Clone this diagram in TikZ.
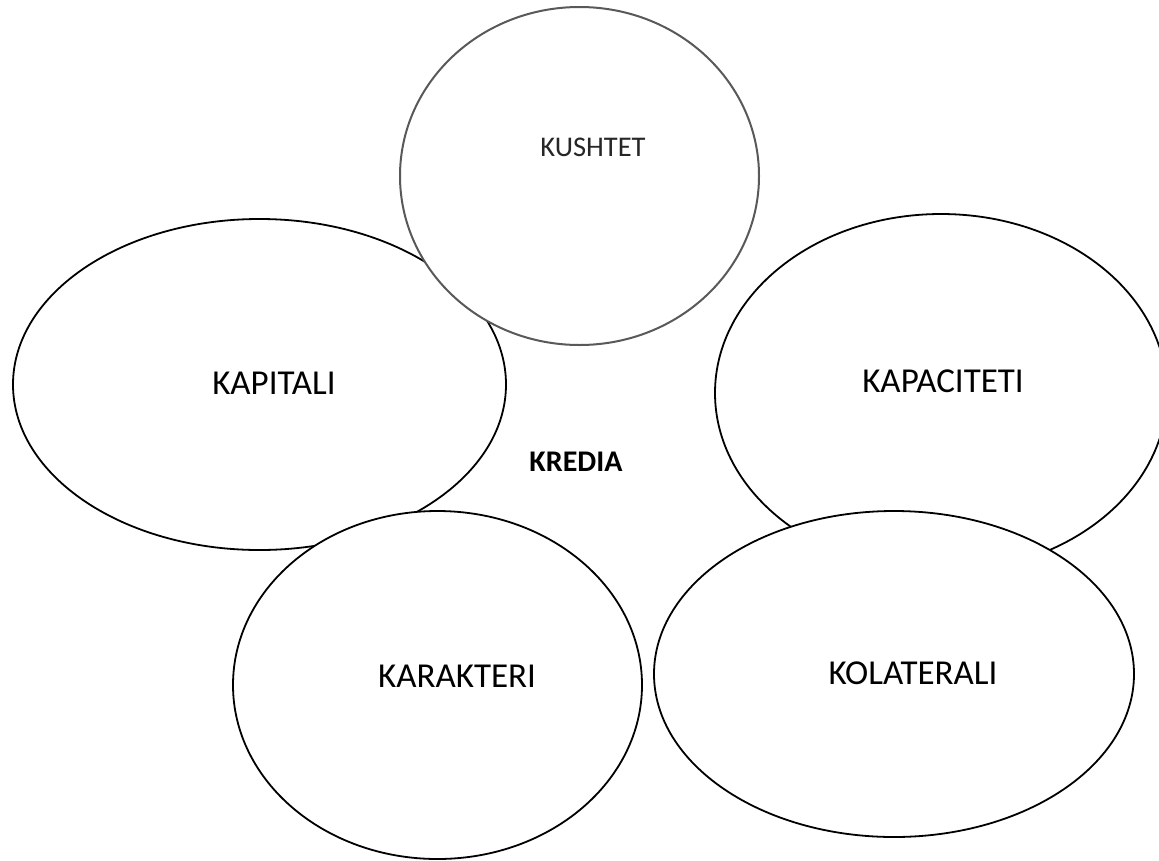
\documentclass[tikz,border=0pt]{standalone}
\usepackage{fontspec}
\setmainfont{Carlito}
\usetikzlibrary{shapes.geometric}
\begin{document}
\begin{tikzpicture}[x=1pt,y=-1pt,
  oval/.style={ellipse, draw=black, line width=1.8pt, fill=white, inner sep=0pt},
  greyoval/.style={ellipse, draw=black!65, line width=2pt, fill=white, inner sep=0pt},
  lbl/.style={font=\fontsize{35}{40}\selectfont, inner sep=0pt},
  small/.style={font=\fontsize{28.5}{32}\selectfont, inner sep=0pt, text=black!85}]
\useasboundingbox (0,0) rectangle (1159,860);
\clip (0,0) rectangle (1159,860);
\node[oval, minimum width=493pt, minimum height=331pt] (kap) at (259.5,384.5) {};
\node[oval, minimum width=452pt, minimum height=358pt] (kapac) at (941,393) {};
\node[greyoval, minimum width=359pt, minimum height=338pt] (kush) at (579.5,176) {};
\node[oval, minimum width=409pt, minimum height=348pt] (kar) at (437.5,685) {};
\node[oval, minimum width=480pt, minimum height=326pt] (kol) at (894,674) {};
\node[small] (tkush) at (593,147) {KUSHTET};
\node[lbl] (tkap) at (274,383) {KAPITALI};
\node[lbl] (tkapac) at (943,381) {KAPACITETI};
\node[lbl] (tkar) at (457,676) {KARAKTERI};
\node[lbl] (tkol) at (913,673) {KOLATERALI};
\node[font=\bfseries\fontsize{30}{34}\selectfont, inner sep=0pt] (kredia) at (576,462) {KREDIA};
\end{tikzpicture}
\end{document}
